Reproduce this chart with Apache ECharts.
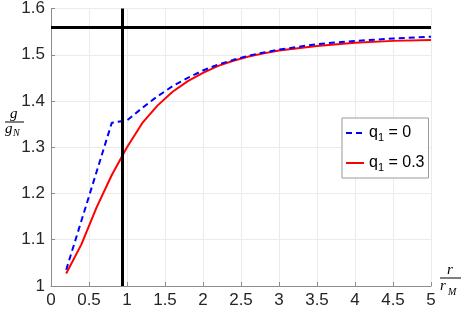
<!DOCTYPE html>
<html><head><meta charset="utf-8">
<script src="https://cdn.jsdelivr.net/npm/echarts@6/dist/echarts.min.js"></script>
<style>html,body{margin:0;padding:0;background:#fff}#c{width:463px;height:313px}</style>
</head><body><div id="c"></div>
<script>
const rValues = [0.2,0.4,0.6,0.8,1.0,1.2,1.4,1.6,1.8,2.0,2.2,2.4,2.6,2.8,3.0,3.5,4.0,4.5,5.0];
const gBlue = [1.035,1.141,1.247,1.353,1.358,1.385,1.410,1.432,1.450,1.466,1.479,1.489,1.498,1.505,1.511,1.523,1.530,1.535,1.539];
const gRed  = [1.027,1.090,1.170,1.240,1.300,1.352,1.390,1.420,1.443,1.461,1.476,1.487,1.496,1.503,1.509,1.519,1.526,1.530,1.532];
const seriesNames = ['q{s|1} = 0','q{s|1} = 0.3'];
const vLineX = 0.94;
const hLineY = 1.56;

const chart = echarts.init(document.getElementById('c'));
const font = 'Liberation Sans, Arial, sans-serif';
const serif = 'Liberation Serif, Times New Roman, serif';
chart.setOption({
  animation:false,
  grid:{left:51,right:32,top:8,bottom:27,containLabel:false},
  xAxis:{type:'value',min:0,max:5,interval:0.5,
    axisLine:{lineStyle:{color:'#8c8c8c',width:1}},
    axisTick:{inside:true,length:4,lineStyle:{color:'#8c8c8c'}},
    axisLabel:{color:'#262626',fontSize:17,fontFamily:font,margin:6},
    splitLine:{show:true,lineStyle:{color:'#ebebeb',width:1}}},
  yAxis:{type:'value',min:1,max:1.6,interval:0.1,
    axisLine:{show:true,lineStyle:{color:'#8c8c8c',width:1}},
    axisTick:{show:true,inside:true,length:4,lineStyle:{color:'#8c8c8c'}},
    axisLabel:{color:'#262626',fontSize:17,fontFamily:font,margin:6},
    splitLine:{show:true,lineStyle:{color:'#ebebeb',width:1}}},
  legend:{show:true,left:342,top:118,orient:'vertical',
    backgroundColor:'#fff',borderColor:'#999',borderWidth:1,padding:[7,4,5,3],
    itemWidth:18,itemHeight:10,itemGap:12,
    itemStyle:{opacity:0},
    textStyle:{color:'#000',fontSize:16,fontFamily:font,
      rich:{s:{fontSize:11,fontFamily:font,padding:[9,0,0,0]}}},
    data:[{name:seriesNames[0]},{name:seriesNames[1]}]},
  series:[
    {name:seriesNames[0],type:'line',symbol:'none',
     data:rValues.map((r,i)=>[r,gBlue[i]]),
     lineStyle:{color:'#0000ff',width:2,type:[6,4]},itemStyle:{color:'#0000ff'},z:3},
    {name:seriesNames[1],type:'line',symbol:'none',
     data:rValues.map((r,i)=>[r,gRed[i]]),
     lineStyle:{color:'#ff0000',width:2},itemStyle:{color:'#ff0000'},z:2,
     markLine:{silent:true,symbol:['none','none'],label:{show:false},
       lineStyle:{color:'#000',width:3,type:'solid'},
       data:[{xAxis:vLineX},{yAxis:hLineY}]}}
  ],
  graphic:[
    {type:'text',left:10,top:107,style:{text:'g',font:'italic 15px '+serif,fill:'#000'}},
    {type:'line',shape:{x1:5,y1:122,x2:24,y2:122},style:{stroke:'#000',lineWidth:1}},
    {type:'text',left:5,top:122,style:{text:'g',font:'italic 15px '+serif,fill:'#000'}},
    {type:'text',left:13,top:128,style:{text:'N',font:'italic 10px '+serif,fill:'#000'}},
    {type:'text',left:447,top:263,style:{text:'r',font:'italic 15px '+serif,fill:'#000'}},
    {type:'line',shape:{x1:440,y1:278,x2:461,y2:278},style:{stroke:'#000',lineWidth:1}},
    {type:'text',left:440,top:279,style:{text:'r',font:'italic 15px '+serif,fill:'#000'}},
    {type:'text',left:448,top:287,style:{text:'M',font:'italic 10px '+serif,fill:'#000'}}
  ]
});
</script></body></html>
